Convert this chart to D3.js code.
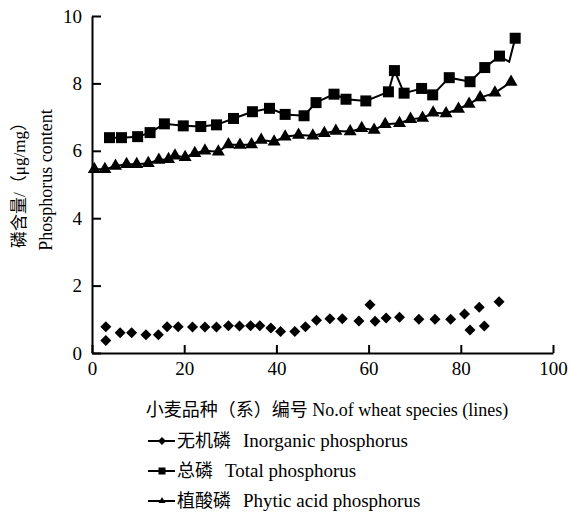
<!DOCTYPE html>
<html>
<head>
<meta charset="utf-8">
<script src="https://cdn.jsdelivr.net/npm/d3@7"></script>
<style>
  body { margin: 0; background: #fff; }
  text { fill: #000; }
</style>
</head>
<body>
<svg id="chart" width="570" height="513"></svg>
<script>
// inorganic phosphorus (diamonds, no line)
const inorgX = [3.0, 3.0, 6.1, 8.6, 11.7, 14.4, 16.3, 18.7, 21.8, 24.5, 27.0, 29.6, 32.0, 34.4, 36.4, 38.8, 40.9, 44.0, 46.3, 48.7, 51.6, 54.3, 57.9, 60.3, 61.4, 63.8, 66.7, 70.9, 74.4, 77.8, 80.8, 82.0, 84.0, 85.1, 88.3];
const inorgY = [0.78, 0.37, 0.6, 0.6, 0.54, 0.54, 0.78, 0.78, 0.77, 0.77, 0.77, 0.81, 0.8, 0.81, 0.81, 0.74, 0.64, 0.64, 0.78, 0.97, 1.02, 1.02, 0.95, 1.43, 0.94, 1.04, 1.06, 1.0, 1.0, 1.0, 1.16, 0.68, 1.36, 0.8, 1.52];

// total phosphorus (squares)
const totalX = [3.8, 6.4, 9.9, 12.6, 15.7, 19.8, 23.6, 27.0, 30.7, 34.8, 38.5, 41.9, 46.0, 48.6, 52.5, 55.1, 59.4, 64.3, 65.6, 67.7, 71.5, 73.9, 77.5, 82.0, 85.2, 88.4, 90.5, 91.8];
const totalY = [6.39, 6.39, 6.42, 6.54, 6.8, 6.74, 6.72, 6.77, 6.96, 7.16, 7.26, 7.08, 7.04, 7.43, 7.68, 7.53, 7.48, 7.75, 8.38, 7.71, 7.85, 7.66, 8.17, 8.05, 8.47, 8.81, 8.64, 9.34];
const totalNoMarker = [26];

// phytic acid phosphorus (triangles)
const phyticX = [0.5, 2.8, 5.1, 7.5, 9.7, 12.2, 14.5, 16.6, 18.0, 20.2, 22.3, 24.5, 27.4, 29.6, 32.1, 34.6, 36.7, 39.5, 41.9, 44.8, 47.9, 50.4, 52.9, 56.0, 58.5, 61.2, 63.6, 66.7, 69.1, 71.7, 74.0, 76.8, 79.5, 81.8, 84.2, 87.4, 90.9];
const phyticY = [5.45, 5.45, 5.55, 5.6, 5.6, 5.63, 5.73, 5.75, 5.85, 5.81, 5.93, 6.0, 5.97, 6.19, 6.17, 6.19, 6.32, 6.27, 6.42, 6.47, 6.45, 6.52, 6.59, 6.57, 6.67, 6.62, 6.79, 6.82, 6.94, 6.97, 7.13, 7.11, 7.24, 7.39, 7.58, 7.72, 8.04];

const xTicks = [0, 20, 40, 60, 80, 100];
const yTicks = [0, 2, 4, 6, 8, 10];
const xTitle = '小麦品种（系）编号 No.of wheat species (lines)';
const yTitleCn = '磷含量/（μg/mg）';
const yTitleEn = 'Phosphorus content';
const legendItems = [
  { cn: '无机磷', en: 'Inorganic phosphorus', shape: 'diamond' },
  { cn: '总磷', en: 'Total phosphorus', shape: 'square' },
  { cn: '植酸磷', en: 'Phytic acid phosphorus', shape: 'triangle' }
];

const SERIF = '"Liberation Serif", "Times New Roman", serif';
const CJK = '"Noto Sans CJK SC", sans-serif';

const margin = { top: 16, left: 92, right: 17, bottom: 160 };
const width = 570, height = 513;

const svg = d3.select('#chart');

const x = d3.scaleLinear().domain([0, 100]).range([margin.left, width - margin.right]);
const y = d3.scaleLinear().domain([0, 10]).range([height - margin.bottom, margin.top]);

const symbolPath = (shape, s) => {
  if (shape === 'square') return d3.symbol(d3.symbolSquare, s * s)();
  if (shape === 'diamond') return d3.symbol(d3.symbolSquare, s * s / 2)();
  return d3.symbol(d3.symbolTriangle, Math.sqrt(3) / 4 * s * s)();
};

// split a string into CJK / latin runs, each in its own tspan
const mixedText = (sel, str) => {
  str.split(/([\u3000-\u9fff\uff00-\uffef]+)/).filter(s => s.length).forEach(run => {
    const isCjk = /[\u3000-\u9fff\uff00-\uffef]/.test(run);
    sel.append('tspan').style('font-family', isCjk ? CJK : SERIF).text(run);
  });
};

// axes (ticks pointing inward)
const xAxis = svg.append('g')
  .attr('transform', `translate(0,${y(0)})`)
  .call(d3.axisBottom(x).tickValues(xTicks).tickSizeInner(-8).tickSizeOuter(0).tickPadding(9));
const yAxis = svg.append('g')
  .attr('transform', `translate(${x(0)},0)`)
  .call(d3.axisLeft(y).tickValues(yTicks).tickSizeInner(-9).tickSizeOuter(0).tickPadding(10));

[xAxis, yAxis].forEach(ax => {
  ax.attr('font-family', null);
  ax.select('.domain').attr('stroke', '#000').attr('stroke-width', 2);
  ax.selectAll('.tick line').attr('stroke', '#000').attr('stroke-width', 2);
  ax.selectAll('.tick text').style('font-size', '19px').style('font-family', SERIF);
});

// lines
const line = d3.line().x(d => x(d[0])).y(d => y(d[1]));
const totalPts = d3.zip(totalX, totalY);
const phyticPts = d3.zip(phyticX, phyticY);

svg.append('path').datum(totalPts)
  .attr('d', line).attr('fill', 'none').attr('stroke', '#000').attr('stroke-width', 2);
svg.append('path').datum(phyticPts)
  .attr('d', line).attr('fill', 'none').attr('stroke', '#000').attr('stroke-width', 2);

// markers
svg.append('g').selectAll('path')
  .data(totalPts.filter((d, i) => !totalNoMarker.includes(i)))
  .join('path')
  .attr('d', symbolPath('square', 11))
  .attr('transform', d => `translate(${x(d[0])},${y(d[1])})`);

svg.append('g').selectAll('path')
  .data(phyticPts)
  .join('path')
  .attr('d', symbolPath('triangle', 13))
  .attr('transform', d => `translate(${x(d[0])},${y(d[1])})`);

svg.append('g').selectAll('path')
  .data(d3.zip(inorgX, inorgY))
  .join('path')
  .attr('d', symbolPath('diamond', 11))
  .attr('transform', d => `translate(${x(d[0])},${y(d[1])}) rotate(45)`);

// axis titles
svg.append('text')
  .attr('x', 327).attr('y', 416)
  .attr('text-anchor', 'middle')
  .style('font-size', '18px')
  .call(mixedText, xTitle);

svg.append('text')
  .attr('transform', 'translate(25,181) rotate(-90)')
  .attr('text-anchor', 'middle')
  .style('font-size', '17px')
  .call(mixedText, yTitleCn);

svg.append('text')
  .attr('transform', 'translate(52,180) rotate(-90)')
  .attr('text-anchor', 'middle')
  .style('font-size', '18px')
  .style('font-family', SERIF)
  .text(yTitleEn);

// legend
const legend = svg.append('g').selectAll('g')
  .data(legendItems)
  .join('g')
  .attr('transform', (d, i) => `translate(148,${441 + i * 30})`);

legend.append('line')
  .attr('x1', 0).attr('x2', 27)
  .attr('stroke', '#000').attr('stroke-width', 2);
legend.append('path')
  .attr('d', d => symbolPath(d.shape, d.shape === 'diamond' ? 8 : 7))
  .attr('transform', d => `translate(14,0)${d.shape === 'diamond' ? ' rotate(45)' : ''}`);

const legendText = legend.append('text')
  .attr('x', 29).attr('dy', '0.35em');
legendText.append('tspan').style('font-family', CJK).style('font-size', '18px').text(d => d.cn);
legendText.append('tspan').attr('dx', 12).style('font-family', SERIF).style('font-size', '19px').text(d => d.en);
</script>
</body>
</html>
